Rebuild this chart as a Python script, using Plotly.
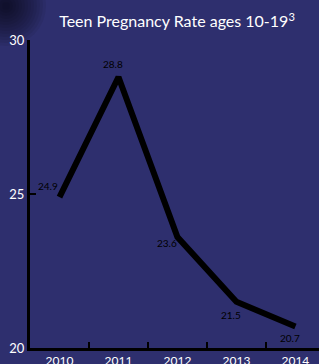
import plotly.graph_objects as go

years = ["2010", "2011", "2012", "2013", "2014"]
rates = [24.9, 28.8, 23.6, 21.5, 20.7]
labels = ["24.9", "28.8", "23.6", "21.5", "20.7"]
y_ticks = [20, 25, 30]

label_shift = [(-11, 11), (-5, 13), (-10, -6), (-5, -13), (-5, -12)]

fig = go.Figure()
fig.add_trace(go.Scatter(x=years, y=rates, mode="lines",
                         line=dict(color="black", width=6), hoverinfo="skip"))

for i, (y, t, (dx, dy)) in enumerate(zip(rates, labels, label_shift)):
    fig.add_annotation(x=i, y=y, text=t, showarrow=False, xshift=dx, yshift=dy,
                       font=dict(family="Lato, Open Sans, sans-serif", size=10, color="black"))

# subtle dark corner shadow (top-left), built from many faint discs
W, H = 319, 364
L, T, B = 30, 40, 16
pw, ph = W - L, H - T - B
cx, cy = 6, 6
for r in range(40, 2, -3):
    fig.add_shape(type="circle", xref="paper", yref="paper", layer="below",
                  x0=(cx - r - L) / pw, x1=(cx + r - L) / pw,
                  y0=(H - B - cy - r) / ph, y1=(H - B - cy + r) / ph,
                  fillcolor="black", opacity=0.06, line=dict(width=0))

bg = "#2e2f6e"
fig.update_layout(
    width=W, height=H,
    paper_bgcolor=bg, plot_bgcolor=bg,
    margin=dict(l=L, r=0, t=T, b=B),
    showlegend=False,
    title=dict(text="Teen Pregnancy Rate ages 10-19<sup>3</sup>", x=0.555, xanchor="center",
               y=0.94, yanchor="middle",
               font=dict(family="Lato, Open Sans, sans-serif", size=16, color="white")),
    xaxis=dict(type="category", range=[-0.5, 4.4], showgrid=False, zeroline=False,
               automargin=False,
               showline=True, linecolor="black", linewidth=3,
               ticks="inside", tickson="boundaries", ticklen=6, tickwidth=2, tickcolor="black",
               tickfont=dict(family="Lato, Open Sans, sans-serif", size=12, color="white")),
    yaxis=dict(range=[20, 30], tickvals=y_ticks, showgrid=False, zeroline=False,
               automargin=False,
               showline=True, linecolor="black", linewidth=3,
               ticks="inside", ticklen=6, tickwidth=2, tickcolor="black",
               tickfont=dict(family="Lato, Open Sans, sans-serif", size=13, color="white")),
)

fig.write_html("out.html", config={"displayModeBar": False},
               post_script="document.body.style.margin='0';document.body.style.overflow='hidden';")
